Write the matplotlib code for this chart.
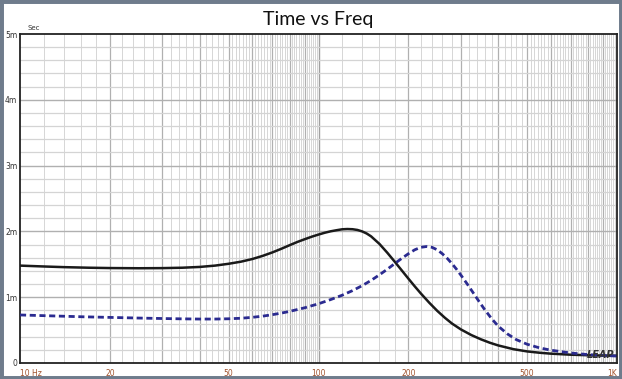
import numpy as np
import matplotlib.pyplot as plt
from matplotlib.patches import Rectangle

# Group delay readings (frequency in Hz, delay in ms)
freq_solid = [10, 12, 14, 17, 20, 25, 30, 35, 40, 45, 50, 55, 60, 65, 70, 75,
              80, 85, 90, 95, 100, 105, 110, 115, 120, 125, 130, 135, 140, 145,
              150, 160, 170, 180, 190, 200, 210, 220, 235, 250, 265, 280, 300,
              325, 350, 375, 400, 450, 500, 550, 600, 700, 800, 900, 1000]
delay_solid = [1.48, 1.467, 1.457, 1.448, 1.443, 1.44, 1.442, 1.448, 1.46, 1.48,
               1.508, 1.54, 1.58, 1.628, 1.68, 1.735, 1.79, 1.84, 1.882, 1.92,
               1.952, 1.98, 2.002, 2.018, 2.032, 2.036, 2.033, 2.022, 2.0, 1.968,
               1.925, 1.81, 1.676, 1.54, 1.408, 1.283, 1.166, 1.059, 0.916,
               0.792, 0.688, 0.60, 0.51, 0.425, 0.36, 0.308, 0.267, 0.21, 0.176,
               0.156, 0.142, 0.126, 0.118, 0.113, 0.11]

freq_dash = [10, 13, 16, 20, 25, 30, 35, 40, 45, 50, 55, 60, 65, 70, 75, 80, 90,
             100, 110, 120, 130, 140, 150, 160, 170, 180, 190, 200, 210, 220,
             230, 240, 250, 260, 270, 280, 290, 300, 315, 330, 345, 360, 380,
             400, 430, 460, 500, 550, 600, 700, 800, 900, 1000]
delay_dash = [0.73, 0.715, 0.703, 0.693, 0.683, 0.676, 0.671, 0.668, 0.668,
              0.672, 0.68, 0.694, 0.712, 0.734, 0.758, 0.784, 0.84, 0.90, 0.965,
              1.03, 1.10, 1.175, 1.255, 1.34, 1.425, 1.51, 1.59, 1.66, 1.72,
              1.758, 1.77, 1.758, 1.72, 1.66, 1.59, 1.51, 1.425, 1.335, 1.20,
              1.065, 0.935, 0.815, 0.675, 0.56, 0.44, 0.355, 0.285, 0.23, 0.195,
              0.152, 0.128, 0.114, 0.105]

x_ticks = [10, 20, 50, 100, 200, 500, 1000]
x_labels = ["10 Hz", "20", "50", "100", "200", "500", "1K"]
y_ticks = [0, 1, 2, 3, 4, 5]
y_labels = ["0", "1m", "2m", "3m", "4m", "5m"]

fig = plt.figure(figsize=(6.22, 3.79), dpi=100)
fig.patch.set_facecolor("white")
ax = fig.add_axes([20 / 622, 16 / 379, 597 / 622, 329 / 379])
ax.set_xscale("log")
ax.set_xlim(10, 1000)
ax.set_ylim(0, 5)

# vertical grid, decade by decade
for dec in [10, 100]:
    minor = list(np.arange(1.2, 5.0, 0.2)) + list(np.arange(5.0, 10.0, 1 / 7))
    for m in minor:
        if abs(m - round(m)) < 1e-6:
            continue
        ax.axvline(dec * m, color="#d6d6d6", lw=0.7, zorder=0)
    for m in range(2, 10):
        ax.axvline(dec * m, color="#b0b0b0", lw=0.9, zorder=0)
ax.axvline(100, color="#a0a0a0", lw=1.0, zorder=0)

# horizontal grid
for v in np.arange(0.2, 5.0, 0.2):
    if abs(v - round(v)) < 1e-6:
        ax.axhline(v, color="#b0b0b0", lw=1.0, zorder=0)
    else:
        ax.axhline(v, color="#d4d4d4", lw=0.9, zorder=0)

ax.plot(freq_solid, delay_solid, color="#1a1a1a", lw=1.8, zorder=3)
ax.plot(freq_dash, delay_dash, color="#2b2b90", lw=2.0, ls=(0, (2.2, 1.3)), zorder=3)

ax.set_xticks(x_ticks)
ax.set_xticklabels(x_labels)
ax.set_yticks(y_ticks)
ax.set_yticklabels(y_labels)
ax.xaxis.set_minor_locator(plt.NullLocator())
ax.tick_params(axis="x", length=0, pad=4, labelsize=5.5, labelcolor="#a0522d")
ax.tick_params(axis="y", length=0, pad=2, labelsize=5.5, labelcolor="#333333")
xl = ax.get_xticklabels()
xl[0].set_horizontalalignment("left")
xl[-1].set_horizontalalignment("right")
for s in ax.spines.values():
    s.set_linewidth(1.3)
    s.set_color("#222222")

ax.text(0.012, 1.01, "Sec", transform=ax.transAxes, fontsize=5, color="#333333",
        ha="left", va="bottom")
ax.text(0.995, 0.01, "LEAP", transform=ax.transAxes, fontsize=7, color="#333333",
        fontweight="bold", style="italic", ha="right", va="bottom", zorder=4)

fig.text(318 / 622, 1 - 19 / 379, "Time vs Freq", fontsize=14, ha="center",
         va="center", family="Lato", color="#111111")

# outer frame
fig.patches.append(Rectangle((0, 0), 1, 1, transform=fig.transFigure, fill=False,
                             edgecolor="#6f7c8c", lw=5))

fig.savefig("out.png", dpi=100)
